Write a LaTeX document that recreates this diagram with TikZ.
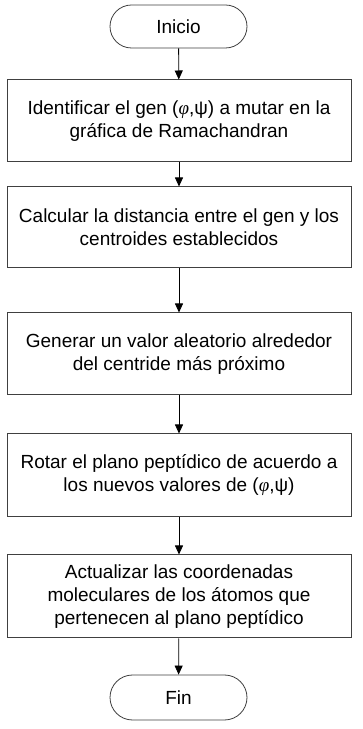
\documentclass[tikz,border=0pt]{standalone}
\usepackage{fontspec}
\setmainfont{Liberation Sans}
\newfontfamily\phifont{Liberation Serif}
\newcommand{\myphi}{{\phifont\itshape φ}}
\usetikzlibrary{arrows.meta}
\begin{document}
\begin{tikzpicture}[x=1pt,y=1pt,
  stepbox/.style={draw=black!75,line width=1pt,fill=white,minimum width=344pt,align=center,
    font=\fontsize{19}{23}\selectfont,inner sep=0pt},
  term/.style={draw=black!75,line width=0.8pt,fill=white,minimum width=137pt,minimum height=43pt,
    rounded corners=21.5pt,font=\fontsize{19}{23}\selectfont,inner sep=0pt},
  link/.style={draw=black,line width=0.8pt,-{Triangle[length=9pt,width=8pt]}}]
\useasboundingbox (0,0) rectangle (362,729);
\node[term] (ini) at (178.5,{729-26.5}) {Inicio};
\node[stepbox,minimum height=82pt] (b1) at (179,{729-121}) {Identificar el gen (\myphi,ψ) a mutar en la\\gráfica de Ramachandran};
\node[stepbox,minimum height=81pt] (b2) at (179,{729-227.5}) {Calcular la distancia entre el gen y los\\centroides establecidos};
\node[stepbox,minimum height=82pt] (b3) at (179,{729-354}) {Generar un valor aleatorio alrededor\\del centride más próximo};
\node[stepbox,minimum height=83pt] (b4) at (179,{729-475.5}) {Rotar el plano peptídico de acuerdo a\\los nuevos valores de (\myphi,ψ)};
\node[stepbox,minimum height=83pt] (b5) at (179,{729-596.5}) {Actualizar las coordenadas\\moleculares de los átomos que\\pertenecen al plano peptídico};
\node[term,minimum height=45pt,rounded corners=22.5pt] (fin) at (178.5,{729-697.5}) {Fin};
\draw[link] (ini) -- (b1);
\draw[link] (b1) -- (b2);
\draw[link] (b2) -- (b3);
\draw[link] (b3) -- (b4);
\draw[link] (b4) -- (b5);
\draw[link] (b5) -- (fin);
\end{tikzpicture}
\end{document}
